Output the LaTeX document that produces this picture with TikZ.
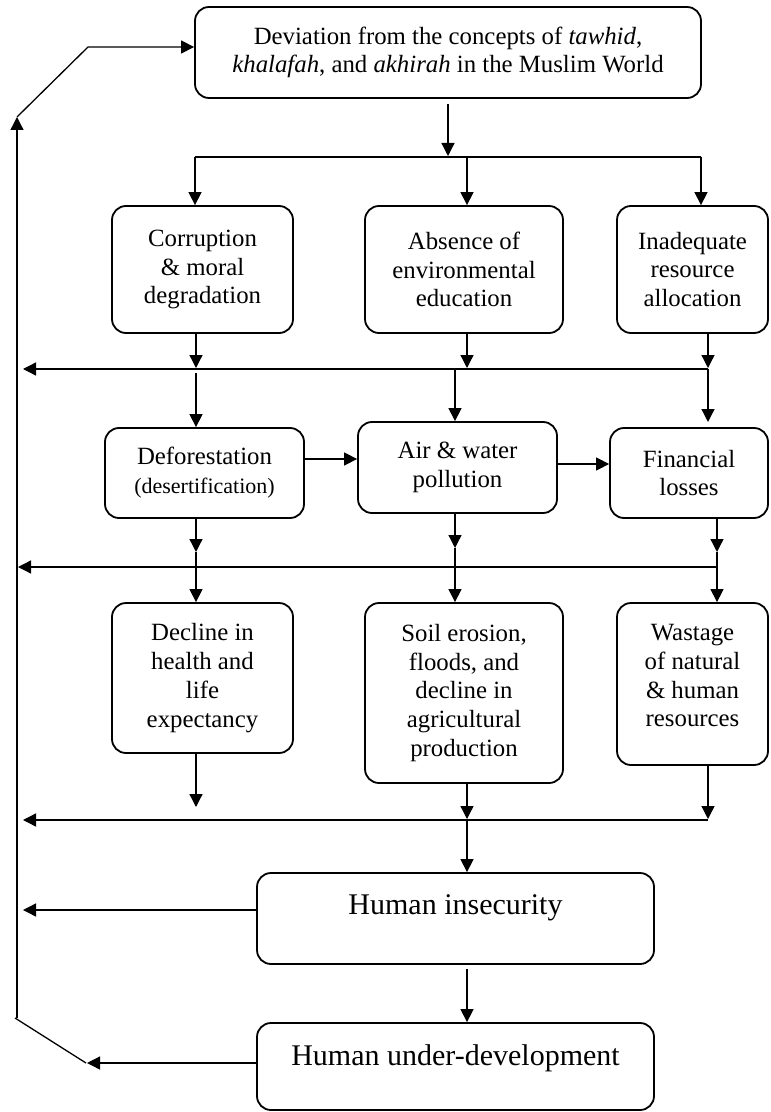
\documentclass[tikz,border=0pt]{standalone}
\usepackage{fontspec}
\setmainfont{Liberation Serif}
\usetikzlibrary{arrows.meta}
\begin{document}
\begin{tikzpicture}[x=0.5pt,y=-0.5pt,
  box/.style={draw, line width=0.9pt, rounded corners=7pt, align=center, inner sep=0pt,
    font=\fontsize{12.4}{14.4}\selectfont},
  big/.style={font=\fontsize{15}{18}\selectfont},
  conn/.style={line width=0.65pt},
  arr/.style={conn, -{Triangle[length=6.5pt,width=6.5pt]}},
]
\useasboundingbox (0,0) rectangle (770,1112);

% boxes
\node[box, minimum width=253pt, minimum height=45.5pt] (dev) at (448,52.5)
  {Deviation from the concepts of \textit{tawhid},\\ \textit{khalafah}, and \textit{akhirah} in the Muslim World};
\node[box, minimum width=90.5pt, minimum height=63.5pt] (cor) at (202.5,269.5)
  {Corruption\\ \& moral\\ degradation};
\node[box, minimum width=99pt, minimum height=63.5pt] (abs) at (464,269.5)
  {Absence of\\ environmental\\ education};
\node[box, minimum width=75.5pt, minimum height=63.5pt] (ina) at (692.5,269.5)
  {Inadequate\\ resource\\ allocation};
\node[box, minimum width=99.5pt, minimum height=45pt] (def) at (204.5,473)
  {Deforestation\\ {\fontsize{11}{13}\selectfont (desertification)}};
\node[box, minimum width=99.5pt, minimum height=45.5pt] (air) at (457.5,467.5)
  {Air \& water\\ pollution};
\node[box, minimum width=79pt, minimum height=45pt] (fin) at (689,473)
  {Financial\\ losses};
\node[box, minimum width=90.5pt, minimum height=75pt] (dec) at (202.5,678)
  {Decline in\\ health and\\ life\\ expectancy};
\node[box, minimum width=99pt, minimum height=90pt] (soil) at (464,693)
  {Soil erosion,\\ floods, and\\ decline in\\ agricultural\\ production};
\node[box, minimum width=75.5pt, minimum height=81pt] (was) at (692.5,684)
  {Wastage\\ of natural\\ \& human\\ resources\rule[-8.5pt]{0pt}{8.5pt}};
\node[box, minimum width=198.5pt, minimum height=45.5pt,
  label={[big, yshift=5.25pt]center:Human insecurity}] (hi) at (455.5,918.5) {};
\node[box, minimum width=198.5pt, minimum height=43.5pt,
  label={[big, yshift=4.25pt]center:Human under-development}] (hu) at (455.5,1066.5) {};

% top distribution
\draw[arr] ([yshift=-2.5pt]dev.south) -- (dev.south |- 0,156);
\draw[conn] (195,157) -- (701,157);
\draw[arr] (195,157) -- (195,0 |- cor.north);
\draw[arr] (467,157) -- (467,0 |- abs.north);
\draw[arr] (701,157) -- (701,0 |- ina.north);

% row 1 -> bus 1
\draw[arr] (196,0 |- cor.south) -- (196,368);
\draw[arr] (467,0 |- abs.south) -- (467,368);
\draw[arr] (708,0 |- ina.south) -- (708,368);
\draw[arr] (708,369) -- (23,369);
\draw[arr] (196,373) -- (196,0 |- def.north);
\draw[arr] (455,369) -- (455,0 |- air.north);
\draw[arr] (708,369) -- (708,422);

% row 2 horizontal
\draw[arr] (def.east |- 0,459) -- (air.west |- 0,459);
\draw[arr] (air.east |- 0,464) -- (fin.west |- 0,464);

% row 2 -> bus 2
\draw[arr] (196,0 |- def.south) -- (196,552);
\draw[arr] (455,0 |- air.south) -- (455,548);
\draw[arr] (717,0 |- fin.south) -- (717,552);
\draw[arr] (717,567) -- (18,567);
\draw[arr] (196,552) -- (196,0 |- dec.north);
\draw[arr] (455,548) -- (455,0 |- soil.north);
\draw[arr] (717,552) -- (717,0 |- was.north);

% row 3 -> bus 3
\draw[arr] (196,0 |- dec.south) -- (196,807);
\draw[arr] (467,0 |- soil.south) -- (467,819);
\draw[arr] (708,0 |- was.south) -- (708,819);
\draw[arr] (708,820) -- (23,820);
\draw[arr] (467,820) -- (467,0 |- hi.north);

% bottom
\draw[arr] (hi.west |- 0,910) -- (23,910);
\draw[arr] (467,969) -- (467,0 |- hu.north);
\draw[arr] (hu.west |- 0,1063) -- (87,1063);

% feedback loop
\draw[conn] (86,1063) -- (15,1018);
\draw[arr] (17,1018) -- (17,117);
\draw[arr] (17,117) -- (88,47) -- (dev.west |- 0,47);
\end{tikzpicture}
\end{document}
